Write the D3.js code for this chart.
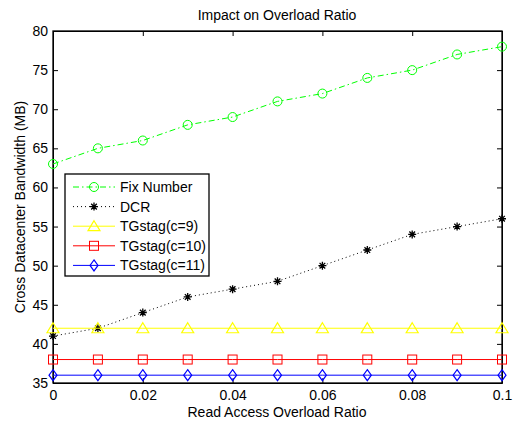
<!DOCTYPE html>
<html>
<head>
<meta charset="utf-8">
<script src="https://cdn.jsdelivr.net/npm/d3@7"></script>
<style>
  body { margin:0; background:#fff; }
  svg text { font-family: "Liberation Sans", Arial, sans-serif; fill:#000; }
</style>
</head>
<body>
<svg id="chart" width="517" height="428"></svg>
<script>
// data
const ratios = [0, 0.01, 0.02, 0.03, 0.04, 0.05, 0.06, 0.07, 0.08, 0.09, 0.1];
const fixNumber = [63, 65, 66, 68, 69, 71, 72, 74, 75, 77, 78];
const dcr = [41, 42, 44, 46, 47, 48, 50, 52, 54, 55, 56];
const tg9 = [42, 42, 42, 42, 42, 42, 42, 42, 42, 42, 42];
const tg10 = [38, 38, 38, 38, 38, 38, 38, 38, 38, 38, 38];
const tg11 = [36, 36, 36, 36, 36, 36, 36, 36, 36, 36, 36];
const xTicks = [0, 0.02, 0.04, 0.06, 0.08, 0.1];
const yTicks = [35, 40, 45, 50, 55, 60, 65, 70, 75, 80];

const series = [
  { name:'Fix Number', values:fixNumber, color:'#00ff00', dash:'6,3,1.5,3', marker:'circle' },
  { name:'DCR', values:dcr, color:'#000', dash:'1,3', marker:'star' },
  { name:'TGstag(c=9)', values:tg9, color:'#ffff00', dash:null, marker:'triangle' },
  { name:'TGstag(c=10)', values:tg10, color:'#ff0000', dash:null, marker:'square' },
  { name:'TGstag(c=11)', values:tg11, color:'#0000ff', dash:null, marker:'diamond' }
];

const svg = d3.select('#chart');
const m = { left:53, right:502, top:31, bottom:383 };
const fs = 14;

const x = d3.scaleLinear().domain([0, 0.1]).range([m.left, m.right]);
const y = d3.scaleLinear().domain([35, 80]).range([m.bottom, m.top]);

const tickLen = 5;
const fmtX = d => d === 0 ? '0' : d3.format('.2~f')(d);

// axes (ticks point inward, MATLAB box)
svg.append('g').attr('transform',`translate(0,${m.bottom})`)
  .call(d3.axisBottom(x).tickValues(xTicks).tickSizeInner(-tickLen).tickSizeOuter(0).tickPadding(7).tickFormat(fmtX));
svg.append('g').attr('transform',`translate(0,${m.top})`)
  .call(d3.axisTop(x).tickValues(xTicks).tickSizeInner(-tickLen).tickSizeOuter(0).tickFormat(''));
svg.append('g').attr('transform',`translate(${m.left},0)`)
  .call(d3.axisLeft(y).tickValues(yTicks).tickSizeInner(-tickLen).tickSizeOuter(0).tickPadding(5));
svg.append('g').attr('transform',`translate(${m.right},0)`)
  .call(d3.axisRight(y).tickValues(yTicks).tickSizeInner(-tickLen).tickSizeOuter(0).tickFormat(''));

svg.selectAll('.domain').attr('stroke','#000').attr('stroke-width',1);
svg.selectAll('.tick line').attr('stroke','#000');
svg.selectAll('.tick text').attr('font-size',fs).attr('font-family','"Liberation Sans", Arial, sans-serif');

svg.append('rect').attr('x',m.left).attr('y',m.top)
  .attr('width',m.right-m.left).attr('height',m.bottom-m.top)
  .attr('fill','none').attr('stroke','#000').attr('stroke-width',1.3);

// marker drawing
function drawMarker(g, type, cx, cy, color) {
  if (type === 'circle') {
    g.append('circle').attr('cx',cx).attr('cy',cy).attr('r',4.5)
      .attr('fill','none').attr('stroke',color).attr('stroke-width',1);
  } else if (type === 'square') {
    g.append('rect').attr('x',cx-4.5).attr('y',cy-4.5).attr('width',9).attr('height',9)
      .attr('fill','none').attr('stroke',color).attr('stroke-width',1);
  } else if (type === 'triangle') {
    g.append('path').attr('d',`M${cx},${cy-5.5}L${cx+6},${cy+4.5}L${cx-6},${cy+4.5}Z`)
      .attr('fill','none').attr('stroke',color).attr('stroke-width',1.2);
  } else if (type === 'diamond') {
    g.append('path').attr('d',`M${cx},${cy-5.5}L${cx+4},${cy}L${cx},${cy+5.5}L${cx-4},${cy}Z`)
      .attr('fill','none').attr('stroke',color).attr('stroke-width',1.2);
  } else if (type === 'star') {
    const r = 4;
    let d = '';
    [0, 45, 90, 135].forEach(a => {
      const t = a * Math.PI / 180;
      d += `M${cx - r*Math.cos(t)},${cy - r*Math.sin(t)}L${cx + r*Math.cos(t)},${cy + r*Math.sin(t)}`;
    });
    g.append('path').attr('d',d).attr('stroke',color).attr('stroke-width',1.3);
  }
}

const line = d3.line().x((d,i)=>x(ratios[i])).y(d=>y(d));

series.forEach(s => {
  const g = svg.append('g');
  g.append('path').datum(s.values).attr('d',line)
    .attr('fill','none').attr('stroke',s.color).attr('stroke-width',1)
    .attr('stroke-dasharray',s.dash);
  s.values.forEach((v,i) => drawMarker(g, s.marker, x(ratios[i]), y(v), s.color));
});

// legend
const leg = svg.append('g');
leg.append('rect').attr('x',65).attr('y',174).attr('width',144).attr('height',102)
  .attr('fill','#fff').attr('stroke','#000').attr('stroke-width',1.3);
series.forEach((s,i) => {
  const ly = 187 + i*19.6;
  leg.append('line').attr('x1',73).attr('x2',115).attr('y1',ly).attr('y2',ly)
    .attr('stroke',s.color).attr('stroke-width',1).attr('stroke-dasharray',s.dash);
  drawMarker(leg, s.marker, 94, ly, s.color);
  leg.append('text').attr('x',120).attr('y',ly).attr('dy','0.35em')
    .attr('font-size',fs).text(s.name);
});

// titles
svg.append('text').attr('x',277).attr('y',20).attr('text-anchor','middle')
  .attr('font-size',fs).text('Impact on Overload Ratio');
svg.append('text').attr('x',277).attr('y',417).attr('text-anchor','middle')
  .attr('font-size',fs).text('Read Access Overload Ratio');
svg.append('text').attr('transform',`translate(25,${(m.top+m.bottom)/2}) rotate(-90)`)
  .attr('text-anchor','middle').attr('font-size',fs).text('Cross Datacenter Bandwidth (MB)');
</script>
</body>
</html>
